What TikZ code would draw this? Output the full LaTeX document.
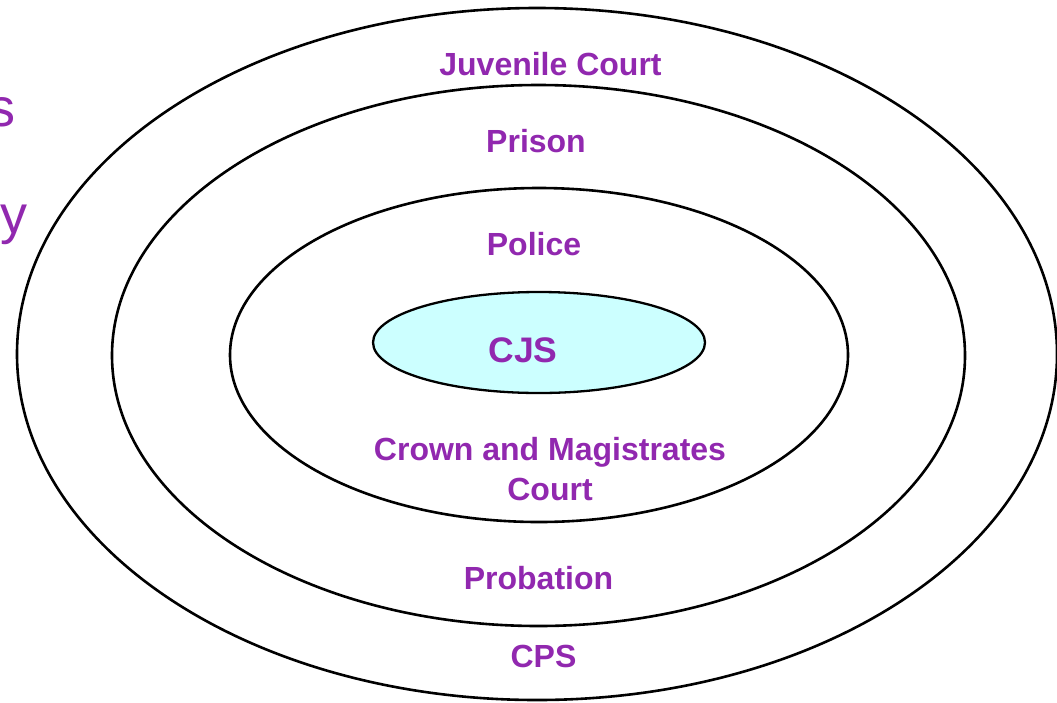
\documentclass[tikz,border=0pt]{standalone}
\usepackage{fontspec}
\setmainfont{Liberation Sans}
\definecolor{labelpurple}{RGB}{145,40,175}
\definecolor{cjsfill}{RGB}{204,255,255}
\begin{document}
\begin{tikzpicture}[x=1pt,y=-1pt,
  ring/.style={draw=black,line width=2.6pt},
  lbl/.style={text=labelpurple,font=\fontsize{32}{40}\selectfont\bfseries,inner sep=0pt,anchor=base,align=center},
  sidetxt/.style={text=labelpurple,font=\fontsize{54}{60}\selectfont,inner sep=0pt,anchor=base east}]
\useasboundingbox (0,0) rectangle (1057,702);
\fill[white] (0,0) rectangle (1057,702);
% rings
\draw[ring] (537,354) ellipse [x radius=520pt, y radius=346pt];
\draw[ring] (538.5,355.5) ellipse [x radius=426.5pt, y radius=270.5pt];
\draw[ring] (539,355) ellipse [x radius=309pt, y radius=167pt];
\draw[ring,fill=cjsfill,line width=2.3pt] (539,342.5) ellipse [x radius=166pt, y radius=50.5pt];
% labels
\node[lbl] (juv) at (550.5,75) {Juvenile Court};
\node[lbl] (prison) at (536,152) {Prison};
\node[lbl] (police) at (534,255) {Police};
\node[lbl,font=\fontsize{35.5}{40}\selectfont\bfseries] (cjs) at (523,362) {CJS};
\node[lbl] (crown) at (550,500) {Crown and Magistrates\\Court};
\node[lbl] (probation) at (538.5,589) {Probation};
\node[lbl] (cps) at (543.5,667) {CPS};
% cut-off text at left edge
\node[sidetxt] (s) at (16,126) {s};
\node[sidetxt] (y) at (28,233) {y};
\end{tikzpicture}
\end{document}
